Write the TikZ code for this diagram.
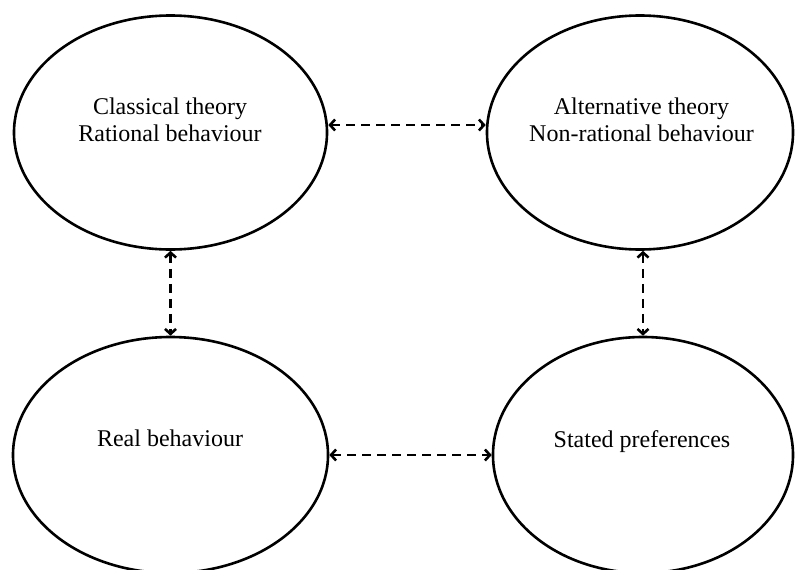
\documentclass[tikz,border=0pt]{standalone}
\usepackage{fontspec}
\setmainfont{Liberation Serif}
\usetikzlibrary{arrows.meta,shapes.geometric}
\begin{document}
\begin{tikzpicture}[x=1pt,y=-1pt,
  bubble/.style={draw,line width=2.6pt,ellipse,inner sep=0pt},
  lbl/.style={font=\fontsize{24}{27}\selectfont,align=center,inner sep=0pt},
  link/.style={line width=2.6pt,dash pattern=on 9pt off 6pt,
    {Straight Barb[length=5pt,width=11pt]}-{Straight Barb[length=5pt,width=11pt]}}]
\useasboundingbox (0,0) rectangle (795,570);
\node[bubble,minimum width=313pt,minimum height=234pt] (ctl) at (170.5,132.5) {};
\node[bubble,minimum width=306pt,minimum height=234pt] (ctr) at (640,132.5) {};
\node[bubble,minimum width=315pt,minimum height=236pt] (cbl) at (170.5,455) {};
\node[bubble,minimum width=300pt,minimum height=236pt] (cbr) at (643,455) {};
\node[lbl] (ttl) at (170,120) {Classical theory\\Rational behaviour};
\node[lbl] (ttr) at (641.5,120) {Alternative theory\\Non-rational behaviour};
\node[lbl,anchor=base] (tbl) at (170,446) {Real behaviour};
\node[lbl,anchor=base] (tbr) at (642,447) {Stated preferences};
\draw[link] ([yshift=7.5pt]ctl.east) -- ([yshift=7.5pt]ctr.west);
\draw[link] (cbl.east) -- (cbr.west);
\draw[link] (ctl.south) -- (cbl.north);
\draw[link] (ctr.south -| cbr.north) -- (cbr.north);
\end{tikzpicture}
\end{document}
